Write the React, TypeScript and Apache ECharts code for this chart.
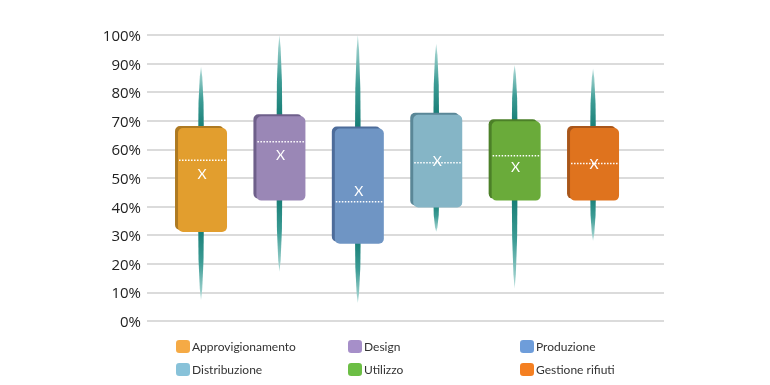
import React, { useEffect, useRef } from 'react';
import * as echarts from 'echarts';

const categories = ['Approvigionamento', 'Design', 'Produzione', 'Distribuzione', 'Utilizzo', 'Gestione rifiuti'];
const minValues = [0.073, 0.172, 0.063, 0.312, 0.114, 0.281];
const q1Values = [0.311, 0.421, 0.27, 0.397, 0.421, 0.421];
const medianValues = [0.562, 0.627, 0.417, 0.553, 0.578, 0.551];
const q3Values = [0.682, 0.723, 0.68, 0.728, 0.705, 0.682];
const maxValues = [0.889, 1.0, 1.0, 0.969, 0.895, 0.883];
const meanValues = [0.516, 0.583, 0.455, 0.56, 0.54, 0.549];

const frontColors = ['#E29E2E', '#9A87B6', '#6F95C4', '#85B5C6', '#6AAB3A', '#DF731E'];
const sideColors = ['#AE7A22', '#6E5F8A', '#4D6C9A', '#5A8797', '#4C8028', '#A9561A'];
const legendColors = ['#F5AA45', '#A68FC9', '#6E9DDA', '#88C2D9', '#6CBE45', '#F47F21'];
const legendPos = [
  [176, 340], [348, 340], [520, 340],
  [176, 363], [348, 363], [520, 363],
];

function whisker(cx: number, base: number, tip: number, up: boolean) {
  const L = base - tip;
  const pts = [
    [cx - 2.8, base],
    [cx - 2.5, base - 0.45 * L],
    [cx - 1.2, base - 0.85 * L],
    [cx, tip],
    [cx + 1.2, base - 0.85 * L],
    [cx + 2.5, base - 0.45 * L],
    [cx + 2.8, base],
  ];
  const stops = [
    { offset: 0, color: '#137A72' },
    { offset: 0.5, color: '#3E9D96' },
    { offset: 1, color: '#B5DDDA' },
  ];
  return {
    type: 'polygon',
    shape: { points: pts },
    style: {
      fill: new echarts.graphic.LinearGradient(0, up ? 1 : 0, 0, up ? 0 : 1, stops),
    },
  };
}

export default function App() {
  const ref = useRef<HTMLDivElement>(null);
  useEffect(() => {
    if (!ref.current) return;
    const chart = echarts.init(ref.current, undefined, { renderer: 'svg' });
    const series = categories.map((name, i) => ({
      type: 'custom',
      name,
      itemStyle: { color: legendColors[i] },
      encode: { x: 0, y: [1, 2, 3, 4, 5, 6] },
      data: [[i, minValues[i], q1Values[i], medianValues[i], q3Values[i], maxValues[i], meanValues[i]]],
      renderItem: (params: any, api: any) => {
        const idx = api.value(0);
        const [cx, yMin] = api.coord([idx, api.value(1)]);
        const yQ1 = api.coord([idx, api.value(2)])[1];
        const yMed = api.coord([idx, api.value(3)])[1];
        const yQ3 = api.coord([idx, api.value(4)])[1];
        const yMax = api.coord([idx, api.value(5)])[1];
        const yMean = api.coord([idx, api.value(6)])[1];
        return {
          type: 'group',
          children: [
            whisker(cx, yQ3 + 6, yMax, true),
            whisker(cx, yQ1 - 6, yMin, false),
            {
              type: 'rect',
              shape: { x: cx - 26, y: yQ3, width: 49, height: yQ1 - yQ3 - 2, r: 5 },
              style: { fill: sideColors[i] },
            },
            {
              type: 'rect',
              shape: { x: cx - 23, y: yQ3 + 2, width: 49, height: yQ1 - yQ3 - 2, r: 5 },
              style: { fill: frontColors[i] },
            },
            {
              type: 'line',
              shape: { x1: cx - 22, y1: yMed, x2: cx + 25, y2: yMed },
              style: { stroke: '#ffffff', lineWidth: 1.5, lineDash: [1.5, 1.5] },
            },
            {
              type: 'text',
              style: {
                text: 'X',
                x: cx + 1,
                y: yMean,
                fill: '#ffffff',
                fontSize: 14,
                fontFamily: 'Lato',
                align: 'center',
                verticalAlign: 'middle',
              },
            },
          ],
        };
      },
    }));
    chart.setOption({
      animation: false,
      grid: { left: 147, right: 106, top: 35, bottom: 64 },
      xAxis: { type: 'value', min: -0.689, max: 5.905, show: false },
      yAxis: {
        type: 'value',
        min: 0,
        max: 1,
        interval: 0.1,
        axisLine: { show: false },
        axisTick: { show: false },
        axisLabel: {
          margin: 6,
          fontSize: 15,
          color: '#222222',
          fontFamily: 'Open Sans',
          formatter: (v: number) => `${Math.round(v * 100)}%`,
        },
        splitLine: { lineStyle: { color: '#CFCFCF', width: 1.5 } },
      },
      legend: categories.map((name, i) => ({
        data: [{ name, itemStyle: { color: legendColors[i] } }],
        left: legendPos[i][0],
        top: legendPos[i][1],
        padding: 0,
        icon: 'roundRect',
        itemWidth: 14,
        itemHeight: 13,
        selectedMode: false,
        textStyle: { fontSize: 12, color: '#333333', fontFamily: 'Lato', padding: [0, 0, 0, -3] },
      })),
      series,
    });
    return () => chart.dispose();
  }, []);
  return <div ref={ref} style={{ position: 'fixed', left: 0, top: 0, width: 770, height: 385 }} />;
}
